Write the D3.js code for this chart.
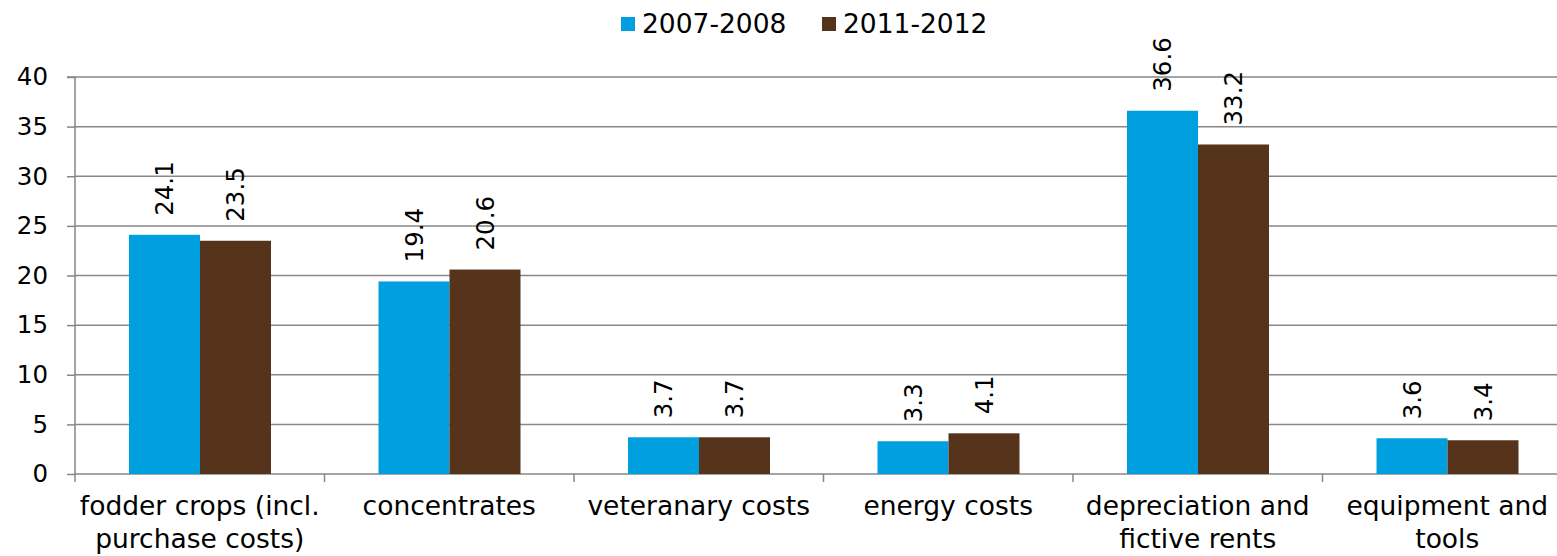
<!DOCTYPE html>
<html>
<head>
<meta charset="utf-8">
<script src="https://cdn.jsdelivr.net/npm/d3@7"></script>
<style>
  html, body { margin: 0; padding: 0; background: #fff; }
  svg { display: block; font-family: "DejaVu Sans", Verdana, sans-serif; }
</style>
</head>
<body>
<svg id="chart" width="1557" height="556"></svg>
<script>
// Cost categories (label lines) and the two periods compared
const categories = [
  ["fodder crops (incl.", "purchase costs)"],
  ["concentrates"],
  ["veteranary costs"],
  ["energy costs"],
  ["depreciation and", "fictive rents"],
  ["equipment and", "tools"]
];
const seriesNames = ["2007-2008", "2011-2012"];
const values2007 = [24.1, 19.4, 3.7, 3.3, 36.6, 3.6];
const values2011 = [23.5, 20.6, 3.7, 4.1, 33.2, 3.4];
const yTicks = [0, 5, 10, 15, 20, 25, 30, 35, 40];
const colors = ["#009FE0", "#56331B"];

const svg = d3.select("#chart");
const plotLeft = 75, plotTop = 77, plotBottom = 474;
const step = 249.5;
const keys = categories.map(c => c.join(" "));
const seriesValues = [values2007, values2011];

const y = d3.scaleLinear().domain([0, 40]).range([plotBottom, plotTop]);
const x0 = d3.scaleBand().domain(keys).range([plotLeft, plotLeft + step * keys.length]).padding(0);
const x1 = d3.scaleBand().domain(seriesNames).range([54, 196]).padding(0);

const gridColor = "#878787";

// horizontal gridlines
svg.append("g").selectAll("line").data(yTicks.filter(t => t > 0)).join("line")
  .attr("x1", plotLeft).attr("x2", 1557)
  .attr("y1", d => y(d)).attr("y2", d => y(d))
  .attr("stroke", gridColor).attr("stroke-width", 1.5);

// y axis
const yAxis = svg.append("g").attr("transform", `translate(${plotLeft},0)`)
  .call(d3.axisLeft(y).tickValues(yTicks).tickSize(8).tickPadding(19).tickFormat(d3.format("d")));
yAxis.select(".domain").attr("stroke", gridColor).attr("stroke-width", 1.5).attr("d", `M-8,${plotTop}H0V${plotBottom}`);
yAxis.selectAll(".tick line").attr("stroke", gridColor).attr("stroke-width", 1.5);
yAxis.selectAll(".tick text").attr("font-size", 24.5).attr("fill", "#000")
  .attr("font-family", "DejaVu Sans, Verdana, sans-serif");

// x axis with ticks at category boundaries
const boundaries = d3.range(keys.length + 1).map(i => plotLeft + i * step);
svg.append("line").attr("x1", plotLeft).attr("x2", 1557).attr("y1", plotBottom).attr("y2", plotBottom)
  .attr("stroke", gridColor).attr("stroke-width", 1.5);
svg.append("g").selectAll("line").data(boundaries).join("line")
  .attr("x1", d => d).attr("x2", d => d).attr("y1", plotBottom).attr("y2", plotBottom + 8)
  .attr("stroke", gridColor).attr("stroke-width", 1.5);

// bars with rotated value labels
const groups = svg.append("g").selectAll("g").data(keys).join("g")
  .attr("transform", d => `translate(${x0(d)},0)`);

groups.each(function(k, i) {
  const g = d3.select(this);
  seriesNames.forEach((s, si) => {
    const v = seriesValues[si][i];
    g.append("rect")
      .attr("x", x1(s)).attr("width", x1.bandwidth())
      .attr("y", y(v)).attr("height", y(0) - y(v))
      .attr("fill", colors[si]);
    g.append("text")
      .attr("transform", `translate(${x1(s) + x1.bandwidth() / 2},${y(v) - 19}) rotate(-90)`)
      .attr("dy", "0.36em")
      .attr("font-size", 24.5)
      .attr("text-anchor", "start")
      .attr("fill", "#000")
      .text(v.toFixed(1));
  });
});

// category labels
svg.append("g").selectAll("text").data(categories).join("text")
  .attr("x", (d, i) => x0(keys[i]) + step / 2)
  .attr("y", 515)
  .attr("text-anchor", "middle")
  .attr("font-size", 26.5)
  .attr("fill", "#000")
  .each(function(lines) {
    d3.select(this).selectAll("tspan").data(lines).join("tspan")
      .attr("x", d3.select(this).attr("x"))
      .attr("dy", (d, j) => j === 0 ? 0 : 33)
      .text(d => d);
  });

// legend
const legendX = [621, 822];
const legend = svg.append("g");
seriesNames.forEach((s, si) => {
  legend.append("rect").attr("x", legendX[si]).attr("y", 17).attr("width", 14).attr("height", 14)
    .attr("fill", colors[si]);
  legend.append("text").attr("x", legendX[si] + 21).attr("y", 33)
    .attr("font-size", 26.5).attr("fill", "#000").text(s);
});
</script>
</body>
</html>
